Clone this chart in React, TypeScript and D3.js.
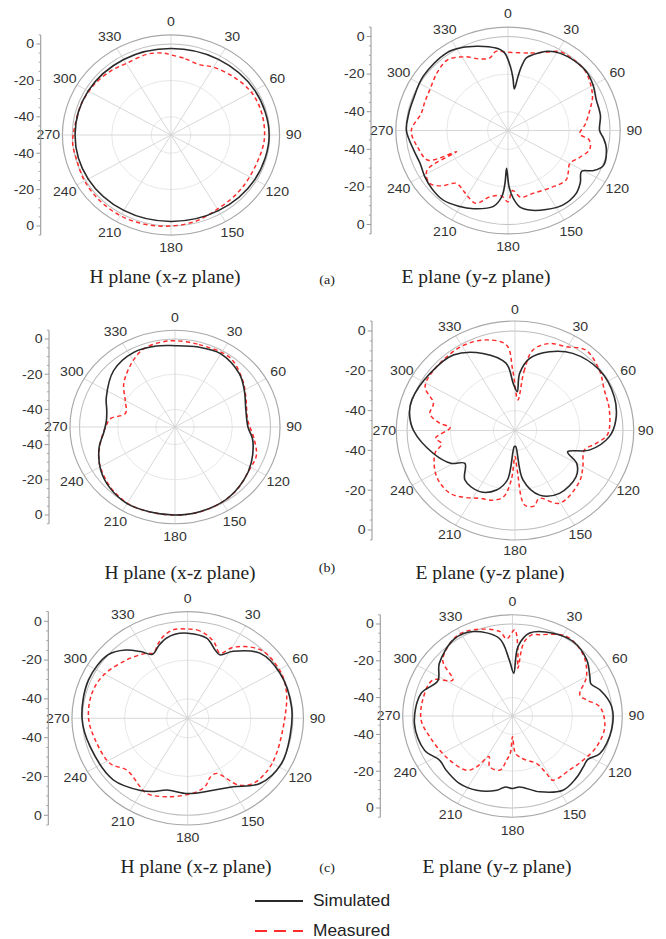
import React from 'react';
import * as d3 from 'd3';

type Pt = [number, number]; // [angle in degrees, gain in dB]

// Angular and radial tick values
const angleTicks = [0, 30, 60, 90, 120, 150, 180, 210, 240, 270, 300, 330];
const radialTicks = [0, -20, -40];
const gridRings = [-40, -20, 0];

// (a) H plane
const aHSim: Pt[] = [[0,-2.5],[30,-2],[60,-1],[90,-0.3],[120,-1],[150,-2],[180,-2.5],[210,-2.2],[240,-1.6],[270,-1.4],[300,-1.6],[330,-2.1]];
const aHMeas: Pt[] = [[0,-6],[10,-7.5],[20,-8.8],[30,-7],[45,-5],[60,-3],[75,-2.5],[90,-2.6],[100,-3.2],[120,-4],[135,-3.6],[150,-3],[165,-1],[180,0],[195,0.8],[210,1.2],[225,1],[240,0.5],[255,-0.3],[265,0],[275,-1],[290,-1.5],[305,-2.2],[320,-3.5],[330,-4.6],[345,-4],[355,-4.8]];
// (a) E plane
const aESim: Pt[] = [[2,-16],[5,-22],[8,-27.7],[9.7,-20.8],[11,-15.2],[13,-10.4],[17,-7.8],[25,-3.5],[32,-1.6],[42,-0.6],[51,-0.4],[60,-1.8],[69,-3.7],[80,-4],[90,-5.1],[95,-3],[101,-0.9],[112,0.3],[117,-3],[121,-7.9],[128,-5],[135,-2.7],[146,-2.1],[156,-4],[166,-6.4],[172,-9],[176,-14],[179,-20],[182,-29.9],[183,-22],[185,-14.6],[190,-9],[202,-5.1],[211,-3],[221,-1.2],[230,-1.5],[239,-2.4],[248,-3.5],[258,-2.5],[270,-0.2],[280,-0.5],[289,-0.7],[305,0.6],[324,1.1],[333,-0.5],[341,-2.6],[348,-4.5],[355,-6.8],[358,-9]];
const aEMeas: Pt[] = [[0,-8.4],[15,-7.3],[25,-4],[31,-1],[40,-0.5],[51,-0.8],[60,-3],[67,-5],[75,-8.5],[85,-12],[93,-14.8],[97,-10],[104,-8.7],[112,-12],[120,-15],[127,-13],[133,-11.2],[145,-13],[160,-14.4],[170,-14],[176,-18],[180,-12],[185,-15],[194,-13.7],[202,-8.2],[210,-10],[215,-11.4],[222,-12.2],[228,-6],[234,-2.4],[242,-5],[246,-22.3],[248,-7.8],[258,-5],[270,-2.6],[282,-6.5],[290,-6.5],[300,-5.9],[312,-3.5],[322,-2.2],[332,-5.6],[340,-9.5],[347,-10.4],[352,-7.5]];
// (b) H plane
const bHSim: Pt[] = [[0,-3.8],[15,-3],[30,-2],[48,-4.7],[60,-8.1],[75,-11.6],[90,-11.8],[100,-8.7],[117,-5.2],[130,-3],[147,-0.9],[165,-0.2],[180,0],[195,0],[210,0.2],[225,-1.5],[238,-4.1],[254,-8.7],[265,-12.5],[276,-13.9],[285,-13],[295,-10.3],[315,-4.6],[333,-2.4],[348,-3]];
const bHMeas: Pt[] = [[0,-1],[15,-1.5],[36,-1.2],[53,-5.7],[65,-9.1],[84,-11.7],[100,-7.8],[111,-4.4],[122,-4.1],[140,-1.5],[160,-0.2],[180,0.1],[205,0.2],[220,-1.2],[233,-3.5],[245,-6],[258,-10.2],[270,-13.7],[278,-15.9],[286.5,-22.9],[300,-19.9],[312.5,-13.6],[328.6,-6.9],[339.6,-2.7],[351,-1.3]];
// (b) E plane
const bESim: Pt[] = [[3,-30.5],[4.3,-21.2],[10.6,-13.1],[22,-7.3],[34.6,-2.9],[52,-0.5],[69.7,-1],[83.5,-3],[94,-6.2],[106,-14.2],[113.6,-23.4],[120,-17],[129.4,-13.4],[146.9,-12.3],[160.7,-15.6],[171.6,-24.9],[178,-42],[182,-42],[188,-25],[196,-18.9],[208,-15.2],[223,-16],[234.6,-21.5],[241,-16],[253,-10.5],[270,-3],[280,-0.4],[288,0.2],[306,-1.3],[323,-2.5],[339,-8.5],[353,-16],[358,-26.3]];
const bEMeas: Pt[] = [[5,-34.6],[8,-20],[11.6,-8.7],[20,-3.5],[29.3,-1.7],[39,2],[52,-0.5],[63.8,-3.9],[76.7,-5.1],[92.6,-7.1],[100,-12],[107,-16.4],[120,-13.7],[130.8,-10.6],[150.6,-8],[161.6,-14.1],[167,-11],[173.2,-12.3],[177,-30],[180,-37],[184,-25],[189,-16.3],[196,-13.6],[205.6,-12.2],[215,-9],[223.6,-6.4],[237.4,-6.9],[252.8,-11.2],[259,-15.4],[264,-13],[272.7,-19.9],[276,-15],[282,-9.7],[290,-9.8],[297.9,-2.9],[311.5,-1.6],[330,-1],[343.8,-2.6],[354.7,-6.8],[358,-19.6]];
// (c) H plane
const cHSim: Pt[] = [[0,-6.1],[12.3,-7.7],[20.2,-12.4],[25,-13.9],[32,-9.3],[45.6,-2],[62,-0.4],[83,-0.3],[101,-0.5],[117.6,0.3],[134.4,-2],[148.5,-8.6],[162,-11],[180,-11.2],[195,-11.7],[203,-9],[211,-6.6],[228,-2.5],[252.5,-1.4],[270,0.2],[292.8,1.1],[311,0],[320,-4],[327,-9],[333,-13],[340,-10],[346,-7.5],[352,-6.2]];
const cHMeas: Pt[] = [[0,-4],[5.4,-4.2],[11.8,-6],[18,-9],[24.6,-13.1],[30,-8],[36.3,-4.1],[46,-0.2],[62.4,0.2],[74.6,-1.3],[90,-3.9],[113,-4.1],[125,-3.5],[137,-4.2],[145,-8],[154,-18.4],[160,-18],[167,-13.8],[177,-11.2],[194,-8.3],[206.6,-6.6],[212.6,-8.1],[227.3,-10.6],[237.7,-6.4],[255.7,-4.7],[270,-2.9],[285.8,-2.7],[299,-4.2],[316,-8.2],[330,-11.2],[334,-12.7],[340,-9],[344.7,-6.2],[351.6,-3.8]];
// (c) E plane
const cESim: Pt[] = [[1.5,-26.7],[4.2,-12.1],[10.8,-4.1],[24.3,-0.6],[36.9,0.6],[50.6,-1.9],[61,-5.7],[66,-7],[72,-4],[84,-0.1],[98.7,0.2],[115,-1.7],[122,-5.5],[128,-5],[137,-3.5],[147.9,-2.4],[161.7,-6.6],[174.7,-11.3],[180,-10.6],[185.3,-11.3],[191,-8.9],[204,-5.8],[216,-4.7],[228.5,-5.6],[236.7,-6.3],[247,-2.2],[265,-0.7],[285,-2.6],[297,-8],[308,-3.5],[325,1],[336.6,0],[351,-7.2],[357,-19.5]];
const cEMeas: Pt[] = [[1.3,-3.1],[4,-12],[6,-23.9],[8,-10],[12,-5],[17,-3.8],[32,1],[46.8,-1.4],[60,-7.2],[71.3,-14.4],[76.8,-11.9],[83.4,-6],[97,-3.4],[111.6,-4.7],[124,-7.2],[135,-9],[150,-9.7],[151.4,-14.4],[155,-21.6],[164,-25],[171,-27.5],[176,-29.7],[180,-38.7],[183,-30],[187,-25.8],[192,-19.9],[202.5,-20.1],[208,-25],[213,-17],[218,-12.6],[236,-10],[255,-7],[267,-4.2],[281,-4.2],[296,-5.5],[303,-14.3],[311,-3.7],[327,1.6],[337,0.9],[352,-3.6],[356,-8]];

const planeTitles = ['H plane (x-z plane)', 'E plane (y-z plane)'];
const rowTags = ['(a)', '(b)', '(c)'];
const seriesNames = ['Simulated', 'Measured'];

// Horizontal stretch of the whole figure
const SX = 1.085;
const DB_MIN = -50;
const DB_OUTER = 5;

const panels = [
  { cx: 171, cy: 135, r0: 91, axisX: 40.7, labelGap: 13, sim: aHSim, meas: aHMeas },
  { cx: 508, cy: 130.5, r0: 94, axisX: 371, labelGap: 13, sim: aESim, meas: aEMeas },
  { cx: 175, cy: 427, r0: 88, axisX: 49, labelGap: 13, sim: bHSim, meas: bHMeas },
  { cx: 515, cy: 430.5, r0: 99.5, axisX: 372, labelGap: 11, sim: bESim, meas: bEMeas },
  { cx: 187.7, cy: 718.3, r0: 97, axisX: 48.3, labelGap: 13, sim: cHSim, meas: cHMeas },
  { cx: 512.5, cy: 716, r0: 92, axisX: 380.3, labelGap: 13, sim: cESim, meas: cEMeas },
];

const titlePos = [
  [{ x: 165, y: 277 }, { x: 476, y: 277 }],
  [{ x: 180, y: 573 }, { x: 490, y: 573 }],
  [{ x: 196, y: 867 }, { x: 497, y: 867 }],
];
const tagPos = [{ x: 327, y: 280 }, { x: 327, y: 568 }, { x: 327, y: 868 }];

const SANS = '"Liberation Sans", Arial, Helvetica, sans-serif';
const SERIF = '"Liberation Serif", "Times New Roman", Times, serif';

function PolarPanel({ p }: { p: typeof panels[number] }) {
  const r = d3.scaleLinear().domain([DB_MIN, 0]).range([0, p.r0]);
  const rOuter = r(DB_OUTER);
  const sortPts = (a: Pt[]) => [...a].sort((u, v) => u[0] - v[0]);
  const line = d3
    .lineRadial<Pt>()
    .angle((d) => (d[0] * Math.PI) / 180)
    .radius((d) => r(d[1]))
    .curve(d3.curveCatmullRomClosed.alpha(0.5));
  const labelR = rOuter + p.labelGap;
  const minorTicks = d3.range(DB_OUTER, DB_MIN, -5).filter((v) => !radialTicks.includes(v));
  return (
    <g>
      <g transform={`translate(${p.cx},${p.cy}) scale(${SX},1)`}>
        {gridRings.map((v) => (
          <circle key={v} r={r(v)} fill="none" stroke={v === 0 ? '#bdbdbd' : '#e2e2e2'} strokeWidth={v === 0 ? 1 : 0.8} />
        ))}
        {angleTicks.map((a) => {
          const t = (a * Math.PI) / 180;
          return (
            <line key={a} x1={0} y1={0} x2={rOuter * Math.sin(t)} y2={-rOuter * Math.cos(t)} stroke="#d0d0d0" strokeWidth={0.8} />
          );
        })}
        <circle r={rOuter} fill="none" stroke="#a8a8a8" strokeWidth={1.1} />
        <path d={line(sortPts(p.meas)) || ''} fill="none" stroke="#ff2b2b" strokeWidth={1.4} strokeDasharray="4 3" />
        <path d={line(sortPts(p.sim)) || ''} fill="none" stroke="#2a2a2a" strokeWidth={1.5} />
        {angleTicks.map((a) => {
          const t = (a * Math.PI) / 180;
          return (
            <text key={a} x={labelR * Math.sin(t)} y={-labelR * Math.cos(t)} textAnchor="middle" dominantBaseline="central"
              fontFamily={SANS} fontSize={13} fill="#333">{a}</text>
          );
        })}
      </g>
      <g transform={`translate(${p.axisX},${p.cy}) scale(${SX},1)`}>
        <line x1={0} x2={0} y1={-rOuter} y2={rOuter} stroke="#9a9a9a" strokeWidth={1} />
        {minorTicks.map((v) => (
          <g key={v}>
            <line x1={-2} x2={0} y1={-r(v)} y2={-r(v)} stroke="#9a9a9a" strokeWidth={0.8} />
            <line x1={-2} x2={0} y1={r(v)} y2={r(v)} stroke="#9a9a9a" strokeWidth={0.8} />
          </g>
        ))}
        {radialTicks.map((v) => (
          <g key={v}>
            <line x1={-4} x2={0} y1={-r(v)} y2={-r(v)} stroke="#9a9a9a" strokeWidth={1} />
            <line x1={-4} x2={0} y1={r(v)} y2={r(v)} stroke="#9a9a9a" strokeWidth={1} />
            <text x={-6} y={-r(v)} textAnchor="end" dominantBaseline="central" fontFamily={SANS} fontSize={13} fill="#333">{v}</text>
            <text x={-6} y={r(v)} textAnchor="end" dominantBaseline="central" fontFamily={SANS} fontSize={13} fill="#333">{v}</text>
          </g>
        ))}
      </g>
    </g>
  );
}

export default function App() {
  return (
    <svg width={666} height={939} style={{ position: 'absolute', left: 0, top: 0, background: '#fff' }}>
      <rect width={666} height={939} fill="#fff" />
      {panels.map((p, i) => (
        <PolarPanel key={i} p={p} />
      ))}
      {titlePos.map((row, ri) =>
        row.map((pos, ci) => (
          <text key={`${ri}-${ci}`} transform={`translate(${pos.x},${pos.y}) scale(${SX},1)`} textAnchor="middle"
            dominantBaseline="central" fontFamily={SERIF} fontSize={18} fill="#222">{planeTitles[ci]}</text>
        ))
      )}
      {rowTags.map((t, i) => (
        <text key={t} transform={`translate(${tagPos[i].x},${tagPos[i].y}) scale(${SX},1)`} textAnchor="middle"
          dominantBaseline="central" fontFamily={SERIF} fontSize={13} fill="#222">{t}</text>
      ))}
      <g>
        <line x1={255} x2={303} y1={901} y2={901} stroke="#2a2a2a" strokeWidth={2} />
        <line x1={255} x2={303} y1={931} y2={931} stroke="#ff2b2b" strokeWidth={2} strokeDasharray="12 7" />
        {seriesNames.map((s, i) => (
          <text key={s} transform={`translate(313,${901 + i * 30}) scale(${SX},1)`} dominantBaseline="central"
            fontFamily={SANS} fontSize={16} fill="#222">{s}</text>
        ))}
      </g>
    </svg>
  );
}
